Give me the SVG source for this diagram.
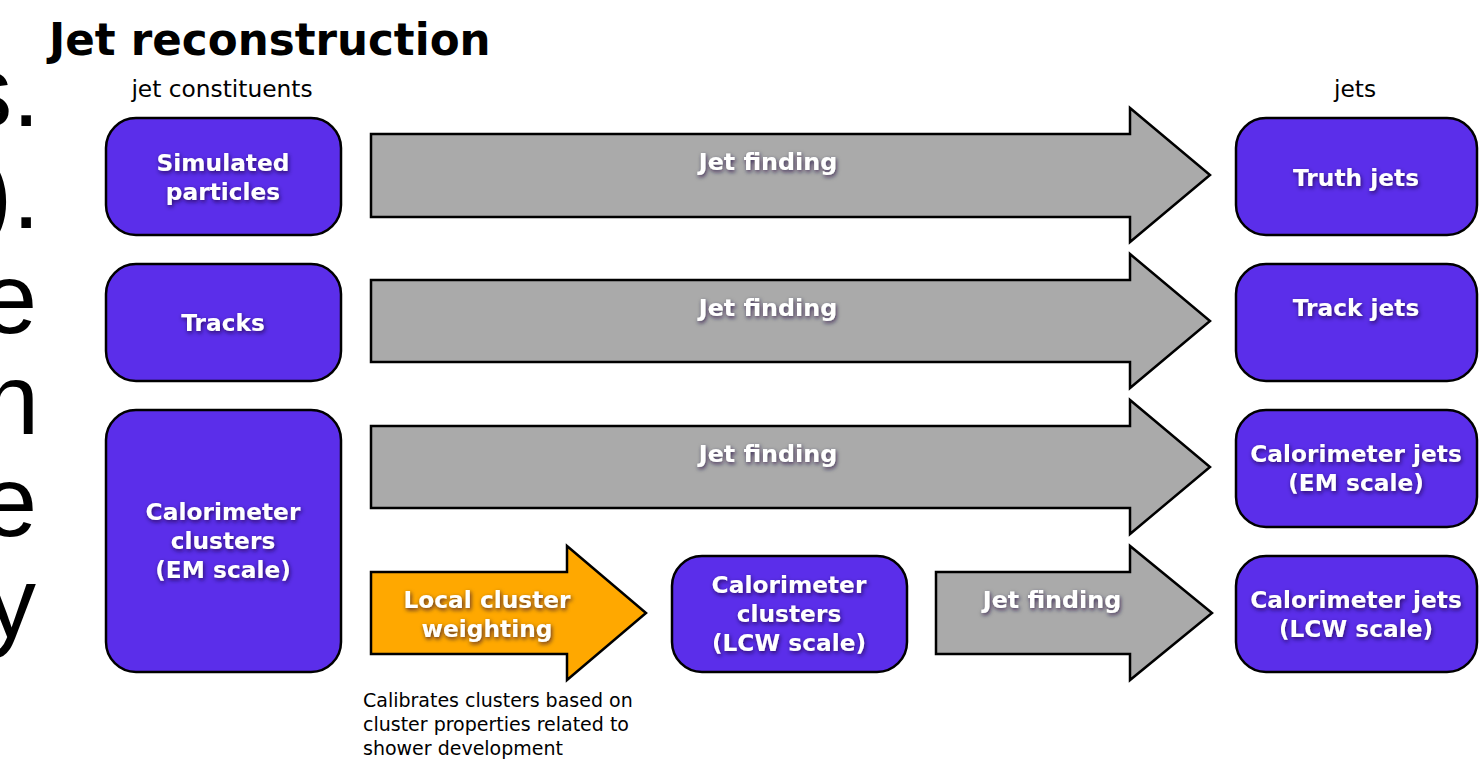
<svg xmlns="http://www.w3.org/2000/svg" width="1481" height="767" viewBox="0 0 1481 767">
<style>
.bg{font-family:"Liberation Sans",Arial,sans-serif;font-size:100px;fill:#000;text-anchor:end}
.title{font-family:"DejaVu Sans",Verdana,sans-serif;font-weight:bold;font-size:43.6px;fill:#000}
.lbl{font-family:"DejaVu Sans",Verdana,sans-serif;font-size:23.3px;fill:#000;text-anchor:middle}
.cap{font-family:"DejaVu Sans",Verdana,sans-serif;font-size:19px;fill:#000}
.node rect{fill:#5B2EEA;stroke:#000;stroke-width:2.5}
.t{font-family:"DejaVu Sans",Verdana,sans-serif;font-weight:bold;font-size:23.3px;fill:#fff;text-anchor:middle;filter:url(#glow)}
.jf{font-size:23.8px}
.arr{fill:#AAAAAA;stroke:#000;stroke-width:2.5;stroke-linejoin:miter}
.org{fill:#FFA800;stroke:#000;stroke-width:2.5}
</style>
<defs>
<filter id="glow" x="-15%" y="-40%" width="130%" height="180%">
<feGaussianBlur in="SourceAlpha" stdDeviation="2" result="b"/>
<feOffset in="b" dx="1" dy="2" result="o"/>
<feFlood flood-color="#1a0a3a" flood-opacity="0.75"/>
<feComposite in2="o" operator="in" result="s"/>
<feMerge><feMergeNode in="s"/><feMergeNode in="SourceGraphic"/></feMerge>
</filter>
</defs>
<rect width="1481" height="767" fill="#fff"/>
<g id="background-text">
<text class="bg" x="40" y="126">s.</text>
<text class="bg" x="40" y="228">).</text>
<text class="bg" x="37" y="333">e</text>
<text class="bg" x="39" y="434">n</text>
<text class="bg" x="37" y="536">e</text>
<text class="bg" x="36" y="637">y</text>
</g>
<text class="title" x="49" y="55">Jet reconstruction</text>
<text class="lbl" x="222" y="97">jet constituents</text>
<text class="lbl" x="1355" y="97">jets</text>
<g id="connectors">
<g id="arrow1"><path class="arr" d="M371,134 H1130 V108 L1210,175 L1130,242 V217 H371 Z"/><text class="t jf" x="768" y="170">Jet finding</text></g>
<g id="arrow2"><path class="arr" d="M371,280 H1130 V254 L1210,321 L1130,388 V362 H371 Z"/><text class="t jf" x="768" y="316">Jet finding</text></g>
<g id="arrow3"><path class="arr" d="M371,426 H1130 V400 L1210,467 L1130,534 V508 H371 Z"/><text class="t jf" x="768" y="462">Jet finding</text></g>
<g id="arrow-lcw"><path class="org" d="M371,572 H567 V546 L646,613 L567,680 V654 H371 Z"/><text class="t" x="487" y="608">Local cluster</text><text class="t" x="487" y="637">weighting</text></g>
<g id="arrow4"><path class="arr" d="M936,572 H1130 V546 L1212,613 L1130,680 V654 H936 Z"/><text class="t jf" x="1052" y="608">Jet finding</text></g>
</g>
<text class="cap" x="363" y="707">Calibrates clusters based on</text>
<text class="cap" x="363" y="731">cluster properties related to</text>
<text class="cap" x="363" y="755">shower development</text>
<g id="sim" class="node"><rect x="106" y="118" width="235" height="117" rx="30"/><text class="t" x="223" y="171">Simulated</text><text class="t" x="223" y="200">particles</text></g>
<g id="tracks" class="node"><rect x="106" y="264" width="235" height="117" rx="30"/><text class="t" x="223" y="331">Tracks</text></g>
<g id="calo-em" class="node"><rect x="106" y="410" width="235" height="262" rx="30"/><text class="t" x="223" y="520">Calorimeter</text><text class="t" x="223" y="549">clusters</text><text class="t" x="223" y="578">(EM scale)</text></g>
<g id="calo-lcw" class="node"><rect x="672" y="556" width="235" height="116" rx="30"/><text class="t" x="789" y="593">Calorimeter</text><text class="t" x="789" y="622">clusters</text><text class="t" x="789" y="651">(LCW scale)</text></g>
<g id="truth-jets" class="node"><rect x="1236" y="118" width="241" height="117" rx="30"/><text class="t" x="1356" y="186">Truth jets</text></g>
<g id="track-jets" class="node"><rect x="1236" y="264" width="241" height="117" rx="30"/><text class="t" x="1356" y="316">Track jets</text></g>
<g id="calo-jets-em" class="node"><rect x="1236" y="410" width="241" height="117" rx="30"/><text class="t" x="1356" y="462">Calorimeter jets</text><text class="t" x="1356" y="491">(EM scale)</text></g>
<g id="calo-jets-lcw" class="node"><rect x="1236" y="556" width="241" height="116" rx="30"/><text class="t" x="1356" y="608">Calorimeter jets</text><text class="t" x="1356" y="637">(LCW scale)</text></g>
</svg>
